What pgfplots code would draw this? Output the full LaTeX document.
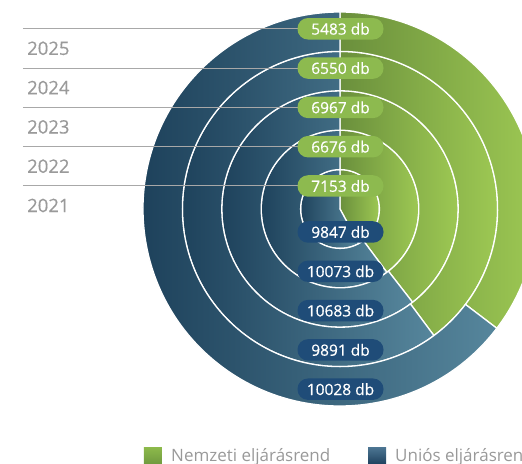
\documentclass[border=0pt]{standalone}
\usepackage{fontspec}
\setmainfont{Open Sans}
\newfontfamily\medfont{Open Sans}[FakeBold=0.45]
\usepackage{pgfplots}
\usepackage{pgfplotstable}
\pgfplotsset{compat=1.18}

\definecolor{gDark}{HTML}{6A8F3C}
\definecolor{gLight}{HTML}{9DC853}
\definecolor{bDark}{HTML}{1A3D57}
\definecolor{bLight}{HTML}{56869C}
\definecolor{pillG}{HTML}{8DBA4F}
\definecolor{pillB}{HTML}{1F4C78}
\definecolor{yearGray}{HTML}{9A9A9A}
\definecolor{lineGray}{HTML}{A8A8A8}
\definecolor{legGray}{HTML}{999999}
\definecolor{legGTop}{HTML}{8DBA4B}
\definecolor{legGBot}{HTML}{6E983E}
\definecolor{legBTop}{HTML}{4D7693}
\definecolor{legBBot}{HTML}{1C3F5C}

% year, Nemzeti (green), Unios (blue); row 0 = innermost ring
\pgfplotstableread{
year green blue
2021 7153 9847
2022 6676 10073
2023 6967 10683
2024 6550 9891
2025 5483 10028
}\datatable

\begin{document}
\begin{tikzpicture}[x=1bp,y=1bp]
\useasboundingbox (0,0) rectangle (522,464);
\clip (0,0) rectangle (522,464);
\begin{axis}[at={(0,0)}, anchor=south west, x=1bp, y=1bp, disabledatascaling,
  hide axis, xmin=-340, xmax=182, ymin=-255, ymax=209, clip=false]
\pgfplotsextra{
  \foreach \i in {0,...,4}{
    \pgfplotstablegetelem{\i}{green}\of\datatable \let\g\pgfplotsretval
    \pgfplotstablegetelem{\i}{blue}\of\datatable \let\b\pgfplotsretval
    \pgfmathsetmacro\gk{\g/1000}
    \pgfmathsetmacro\bk{\b/1000}
    \pgfmathsetmacro\ang{90-360*\gk/(\gk+\bk)}
    \pgfmathsetmacro\ri{max(39.4*\i,0.01)}
    \pgfmathsetmacro\ro{39.4*(\i+1)}
    \pgfmathsetmacro\xo{\ro*cos(\ang)}
    \pgfmathsetmacro\yo{\ro*sin(\ang)}
    \pgfmathsetmacro\xi{\ri*cos(\ang)}
    \pgfmathsetmacro\yi{\ri*sin(\ang)}
    \shade[draw=white, line width=1.3bp, left color=gDark, right color=gLight]
      (axis cs:0,\ro) arc[start angle=90, end angle=\ang, radius=\ro bp]
      -- (axis cs:\xi,\yi) arc[start angle=\ang, end angle=90, radius=\ri bp] -- cycle;
    \shade[draw=white, line width=1.3bp, left color=bDark, right color=bLight]
      (axis cs:\xo,\yo) arc[start angle=\ang, end angle=-270, radius=\ro bp]
      -- (axis cs:0,\ri) arc[start angle=-270, end angle=\ang, radius=\ri bp] -- cycle;
  }
  \foreach \i in {0,...,4}{
    \pgfplotstablegetelem{\i}{green}\of\datatable \let\g\pgfplotsretval
    \pgfplotstablegetelem{\i}{blue}\of\datatable \let\b\pgfplotsretval
    \pgfplotstablegetelem{\i}{year}\of\datatable \let\yr\pgfplotsretval
    \pgfmathsetmacro\ly{23+39.3*\i}
    \pgfmathsetmacro\nly{-\ly}
    \pgfmathsetmacro\ty{\ly-19.5}
    \draw[lineGray, line width=1bp] (axis cs:-317,\ly) -- (axis cs:0,\ly);
    \node[fill=pillG, rounded corners=10.5bp, minimum width=86bp, minimum height=21.5bp,
      inner sep=0pt, text=white, font=\medfont\fontsize{15.5bp}{18bp}\selectfont]
      at (axis cs:0.5,\ly) {\g\ db};
    \node[fill=pillB, rounded corners=10.5bp, minimum width=86bp, minimum height=21.5bp,
      inner sep=0pt, text=white, font=\medfont\fontsize{15.5bp}{18bp}\selectfont]
      at (axis cs:0.5,\nly) {\b\ db};
    \node[anchor=west, inner sep=0pt, text=yearGray, font=\medfont\fontsize{18.5bp}{22bp}\selectfont]
      at (axis cs:-313,\ty) {\yr};
  }
  % legend
  \shade[top color=legGTop, bottom color=legGBot] (axis cs:-196,-238) rectangle (axis cs:-178,-256);
  \node[anchor=base west, inner sep=0pt, text=legGray, font=\fontsize{17bp}{20bp}\selectfont]
    at (axis cs:-169,-252.5) {Nemzeti eljárásrend};
  \shade[top color=legBTop, bottom color=legBBot] (axis cs:28,-238) rectangle (axis cs:46,-256);
  \node[anchor=base west, inner sep=0pt, text=legGray, font=\fontsize{17bp}{20bp}\selectfont]
    at (axis cs:55,-252.5) {Uniós eljárásrend};
}
\end{axis}
\end{tikzpicture}
\end{document}
